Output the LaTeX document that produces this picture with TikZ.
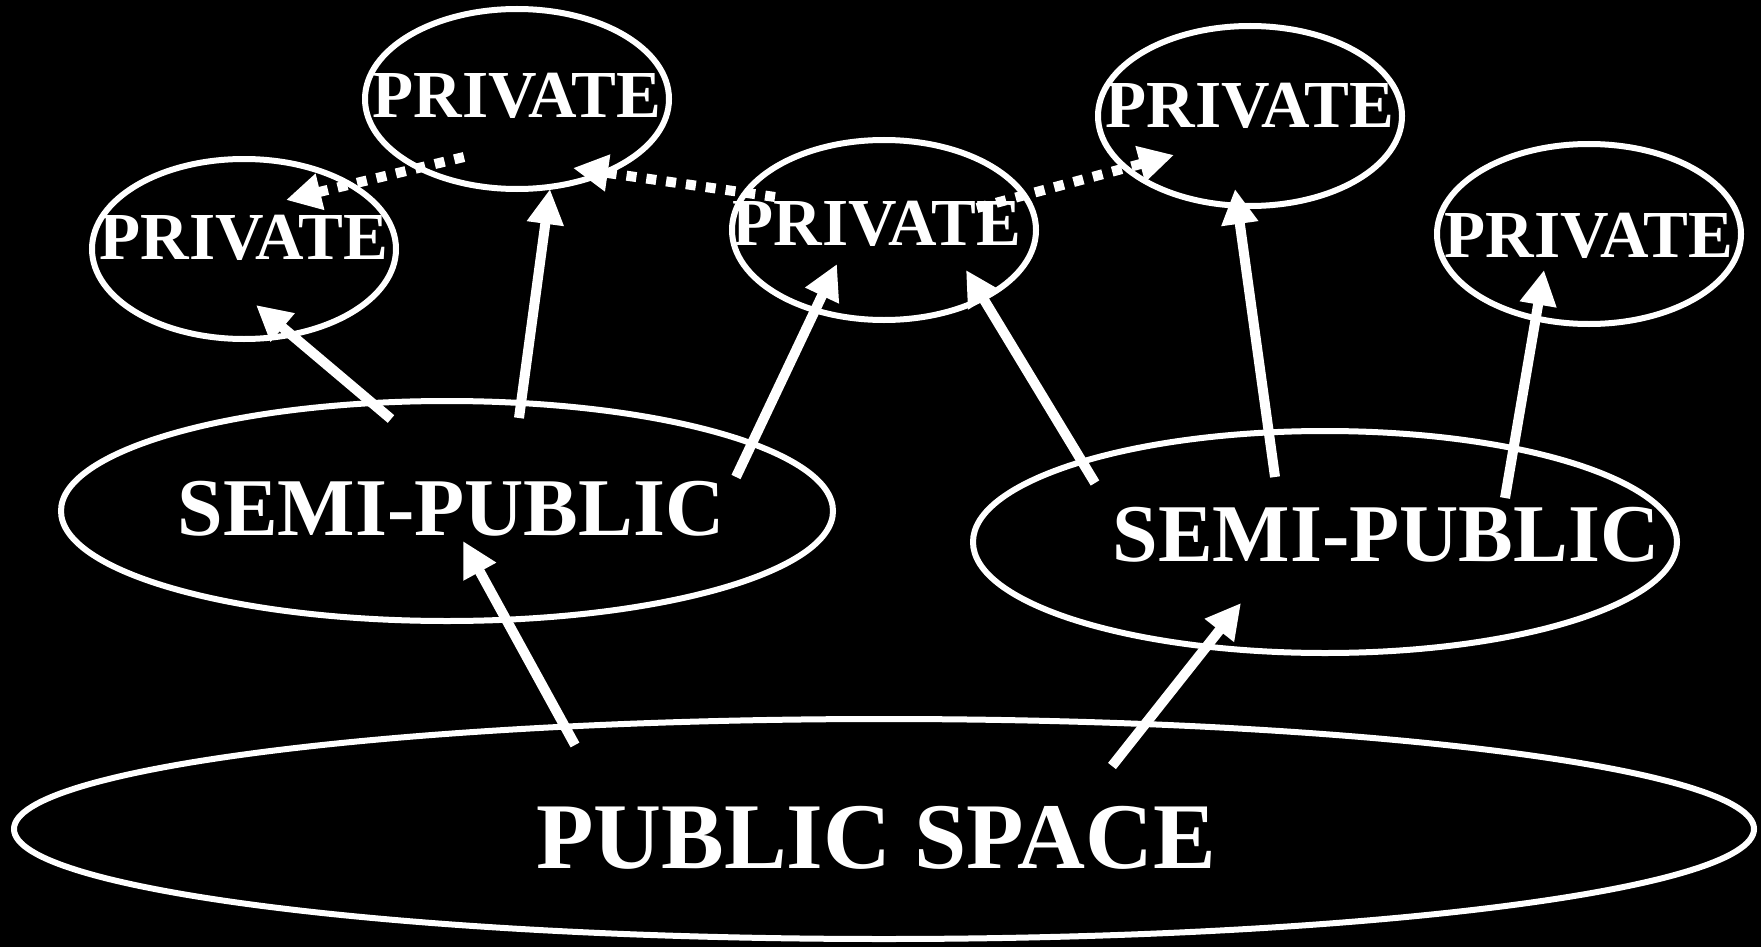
\documentclass[tikz,border=0pt]{standalone}
\usepackage{fontspec}
\setmainfont{Liberation Serif}
\usetikzlibrary{shapes.geometric,arrows.meta}

\begin{document}
\begin{tikzpicture}[x=0.5pt,y=-0.5pt,
  zone/.style={draw=white,line width=3pt,ellipse,inner sep=0pt},
  small/.style={zone,minimum width=152pt,minimum height=90pt},
  lbl/.style={text=white,inner sep=0pt},
  privtxt/.style={lbl,font=\bfseries\fontsize{33.6}{33.6}\selectfont},
  semitxt/.style={lbl,font=\bfseries\fontsize{41}{41}\selectfont},
  pubtxt/.style={lbl,font=\bfseries\fontsize{47}{47}\selectfont},
  link/.style={white,line width=5pt,-{Triangle[length=17.5pt,width=17.5pt]}},
  hop/.style={link,dash pattern=on 5pt off 5pt}]
\fill[black] (0,0) rectangle (1761,947);
\useasboundingbox (0,0) rectangle (1761,947);
\node[small] (pa) at (244,249) {};
\node[small] (pb) at (517,99) {};
\node[small] (pc) at (884,230) {};
\node[small] (pd) at (1250,116) {};
\node[small] (pe) at (1589,234) {};
\node[zone,minimum width=386pt,minimum height=110pt] (sl) at (447,511) {};
\node[zone,minimum width=352pt,minimum height=111pt] (sr) at (1325,542) {};
\node[zone,minimum width=870pt,minimum height=110pt] (ps) at (884,829) {};
\node[privtxt] (pa-t) at ([shift={(0,-11)}]pa) {PRIVATE};
\node[privtxt] (pb-t) at ([shift={(0,-3)}]pb) {PRIVATE};
\node[privtxt] (pc-t) at ([shift={(-7,-6)}]pc) {PRIVATE};
\node[privtxt] (pd-t) at ([shift={(0,-10)}]pd) {PRIVATE};
\node[privtxt] (pe-t) at ([shift={(0,2)}]pe) {PRIVATE};
\node[semitxt] (sl-t) at ([shift={(4,-2)}]sl) {SEMI-PUBLIC};
\node[semitxt] (sr-t) at ([shift={(61,-7)}]sr) {SEMI-PUBLIC};
\node[pubtxt] (ps-t) at ([shift={(-8,9)}]ps) {PUBLIC SPACE};
\draw[link] ([shift={(-56,-92)}]sl.center) -- ([shift={(12,56)}]pa.center);
\draw[link] ([shift={(72,-93)}]sl.center) -- ([shift={(33,90)}]pb.center);
\draw[link] ([shift={(289,-34)}]sl.center) -- ([shift={(-47,34)}]pc.center);
\draw[link] ([shift={(-230,-59)}]sr.center) -- ([shift={(82,40)}]pc.center);
\draw[link] ([shift={(-50,-65)}]sr.center) -- ([shift={(-15,73)}]pd.center);
\draw[link] ([shift={(180,-44)}]sr.center) -- ([shift={(-45,36)}]pe.center);
\draw[link] ([shift={(-309,-84)}]ps.center) -- ([shift={(16,30)}]sl.center);
\draw[link] ([shift={(228,-63)}]ps.center) -- ([shift={(-84,61)}]sr.center);
\draw[hop] ([shift={(-53,58)}]pb.center) -- ([shift={(42,-49)}]pa.center);
\draw[hop] ([shift={(-109,-33)}]pc.center) -- ([shift={(56,69)}]pb.center);
\draw[hop] ([shift={(93,-22)}]pc.center) -- ([shift={(-76,39)}]pd.center);
\end{tikzpicture}
\end{document}
